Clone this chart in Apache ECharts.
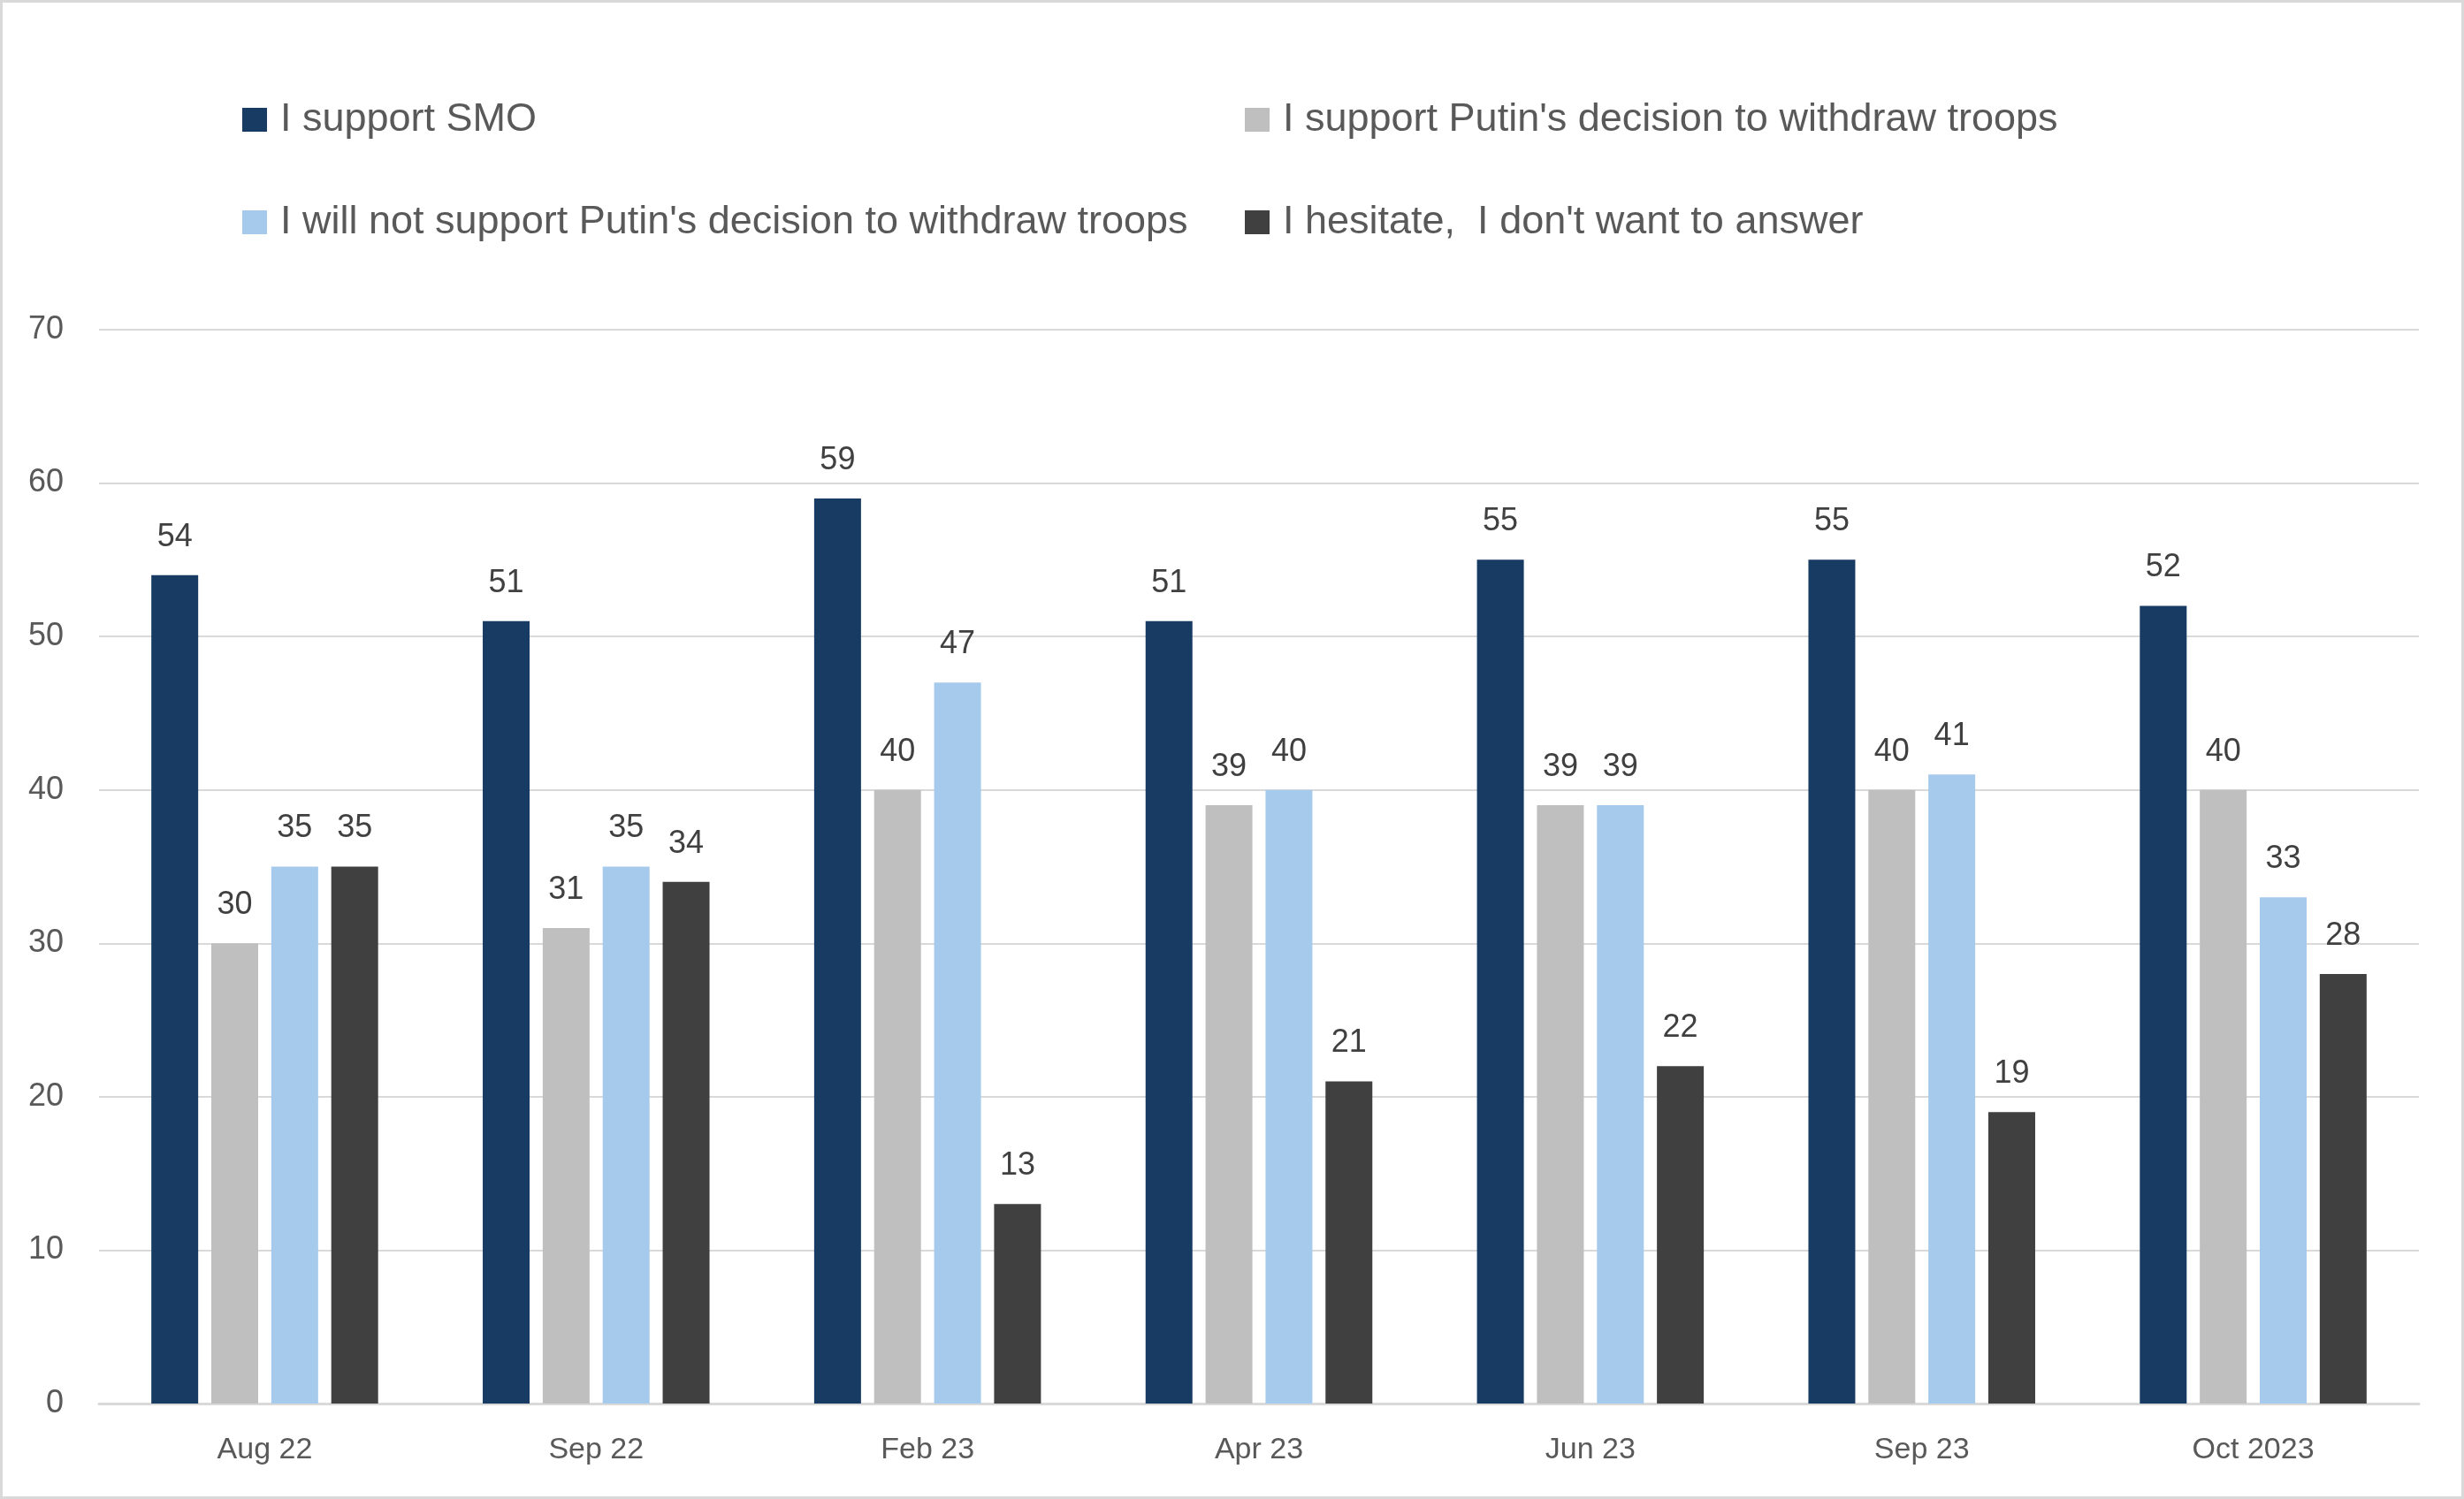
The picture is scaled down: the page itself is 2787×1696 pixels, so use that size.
<!DOCTYPE html>
<html lang="en">
<head>
    <meta charset="UTF-8">
    <title>SMO support</title>
    <script type="text/javascript" src="https://cdn.jsdelivr.net/npm/echarts@6/dist/echarts.min.js"></script>
    <style>
        html, body { margin: 0; padding: 0; background: #fff; }
    </style>
</head>
<body>
<div id="main" style="width:2787px; height:1696px;"></div>
<script>
    var months = ['Aug 22', 'Sep 22', 'Feb 23', 'Apr 23', 'Jun 23', 'Sep 23', 'Oct 2023'];
    var seriesNames = [
        'I support SMO',
        "I support Putin's decision to withdraw troops",
        "I will not support Putin's decision to withdraw troops",
        "I hesitate,  I don't want to answer"
    ];
    var supportSMO = [54, 51, 59, 51, 55, 55, 52];
    var supportWithdraw = [30, 31, 40, 39, 39, 40, 40];
    var notSupportWithdraw = [35, 35, 47, 40, 39, 41, 33];
    var hesitate = [35, 34, 13, 21, 22, 19, 28];
    var colors = ['#173B62', '#BFBFBF', '#A6CAEC', '#404040'];

    var font = 'Liberation Sans, Arial, sans-serif';
    var chart = echarts.init(document.getElementById('main'));

    var allData = [supportSMO, supportWithdraw, notSupportWithdraw, hesitate];
    var series = [];
    for (var i = 0; i < allData.length; i++) {
        series.push({
            name: seriesNames[i],
            type: 'bar',
            data: allData[i],
            barWidth: 53,
            barGap: '28%',
            itemStyle: { color: colors[i] },
            label: {
                show: true,
                position: 'top',
                distance: 25,
                fontSize: 36,
                fontFamily: font,
                color: '#404040'
            }
        });
    }

    // one legend per entry so the two columns line up
    var legendPos = [[274, 113], [1408, 113], [274, 229], [1408, 229]];
    var legends = [];
    for (var j = 0; j < seriesNames.length; j++) {
        legends.push({
            data: [seriesNames[j]],
            left: legendPos[j][0],
            top: legendPos[j][1],
            padding: 0,
            itemWidth: 28,
            itemHeight: 27,
            icon: 'rect',
            selectedMode: false,
            textStyle: {
                fontSize: 45,
                fontFamily: font,
                color: '#595959',
                lineHeight: 27,
                padding: [0, 0, 0, 10]
            }
        });
    }

    var option = {
        animation: false,
        backgroundColor: '#fff',
        legend: legends,
        grid: { left: 112, right: 51, top: 373, bottom: 108 },
        xAxis: {
            type: 'category',
            data: months,
            axisLine: { lineStyle: { color: '#D9D9D9', width: 3 } },
            axisTick: { show: false },
            axisLabel: { fontSize: 34, fontFamily: font, color: '#595959', margin: 36 }
        },
        yAxis: {
            type: 'value',
            min: 0,
            max: 70,
            interval: 10,
            axisLine: { show: false },
            axisTick: { show: false },
            splitLine: { lineStyle: { color: '#D9D9D9', width: 2 } },
            axisLabel: { fontSize: 36, fontFamily: font, color: '#595959', margin: 40 }
        },
        graphic: [{
            type: 'rect',
            shape: { x: 1.5, y: 1.5, width: 2784, height: 1693 },
            style: { fill: null, stroke: '#D9D9D9', lineWidth: 3 },
            silent: true
        }],
        series: series
    };
    chart.setOption(option);
</script>
</body>
</html>
